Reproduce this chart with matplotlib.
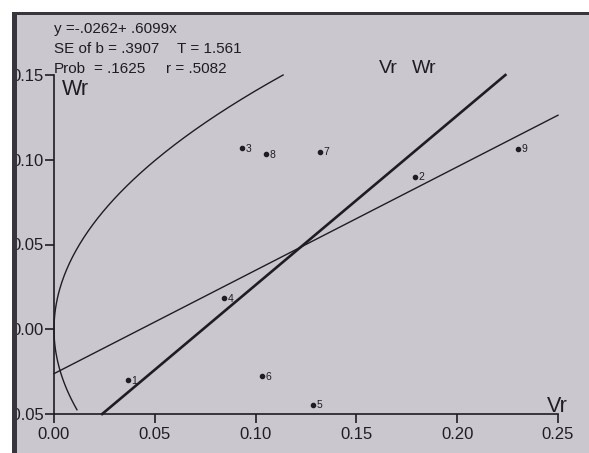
import numpy as np
import matplotlib
matplotlib.use("Agg")
import matplotlib.pyplot as plt
from matplotlib.patches import Rectangle

plt.rcParams['font.family'] = ['Liberation Sans', 'DejaVu Sans']

# array data
labels = ['1', '2', '3', '4', '5', '6', '7', '8', '9']
vr = [0.0366, 0.1792, 0.0934, 0.0845, 0.1286, 0.1033, 0.1321, 0.1052, 0.2300]
wr = [-0.0300, 0.0901, 0.1070, 0.0183, -0.0445, -0.0276, 0.1048, 0.1031, 0.1066]

# regression printed on the chart
intercept = -0.0262
slope = 0.6099
stats_lines = ["y =-.0262+ .6099x", "SE of b = .3907", "Prob"]
stats_right = ["", "T = 1.561", "r = .5082"]

# limiting parabola Wr^2 = Vr * Vp
vp = 0.198

xticks = [0.00, 0.05, 0.10, 0.15, 0.20, 0.25]
yticks = [-0.05, 0.00, 0.05, 0.10, 0.15]

W, H = 589, 453
bg = '#cbc7cf'
ink = '#1e1e22'

fig = plt.figure(figsize=(W / 100, H / 100), dpi=100, facecolor=bg)
ax = fig.add_axes([54 / W, 1 - 414 / H, (558 - 54) / W, (414 - 75) / H])
ax.set_facecolor('none')
ax.set_xlim(0, 0.25)
ax.set_ylim(-0.05, 0.15)

for s in ['top', 'right']:
    ax.spines[s].set_visible(False)
for s in ['left', 'bottom']:
    ax.spines[s].set_color(ink)
    ax.spines[s].set_linewidth(1.2)

ax.set_xticks(xticks)
ax.set_xticklabels(['%.2f' % t for t in xticks])
ax.set_yticks(yticks)
ax.set_yticklabels(['%.2f' % t for t in yticks])
ax.tick_params(axis='x', direction='out', length=6.5, width=1.2, color=ink,
               labelsize=12, labelcolor=ink, pad=3)
ax.tick_params(axis='y', direction='out', length=6.5, width=1.2, color=ink,
               labelsize=12, labelcolor=ink, pad=1)

# regression line
xr = np.array([0.0, 0.25])
ax.plot(xr, intercept + slope * xr, color=ink, lw=1.0, clip_on=False)

# unit slope line through the mean point
mx, my = np.mean(vr), np.mean(wr)
c = my - mx
xu = np.array([-0.05 - c, 0.15 - c])
ax.plot(xu, xu + c, color=ink, lw=1.9, clip_on=False)

# parabola
yu = np.linspace(0, 0.15, 200)
ax.plot(yu ** 2 / vp, yu, color=ink, lw=1.0, clip_on=False)
yl = np.linspace(0, -0.0475, 100)
ax.plot(yl ** 2 / vp, yl, color=ink, lw=1.0, clip_on=False)

# points
ax.plot(vr, wr, 'o', color=ink, ms=3.0, ls='none')
for lab, x, y in zip(labels, vr, wr):
    ax.annotate(lab, (x, y), xytext=(2.5, -0.5), textcoords='offset points',
                fontsize=7.5, color=ink, va='center', ha='left')

# texts in figure pixels
def ftext(px, baseline, s, size):
    fig.text(px / W, 1 - baseline / H, s, fontsize=size, color=ink,
             ha='left', va='baseline')

ftext(54, 33, stats_lines[0], 11)
ftext(54, 53, stats_lines[1], 11)
ftext(177, 53, stats_right[1], 11)
ftext(54, 73, stats_lines[2], 11)
ftext(94, 73, "= .1625", 11)
ftext(166, 73, stats_right[2], 11)

ftext(379, 73, "Vr", 14)
ftext(412, 73, "Wr", 14)
ftext(62, 95, "Wr", 15.5)
ftext(547, 412, "Vr", 15.5)

# scan border
fig.patches.append(Rectangle((0, 1 - 12 / H), 1, 12 / H, transform=fig.transFigure,
                             facecolor='white', edgecolor='none', zorder=10))
fig.patches.append(Rectangle((0, 0), 12 / W, 1, transform=fig.transFigure,
                             facecolor='white', edgecolor='none', zorder=10))
fig.patches.append(Rectangle((12 / W, 0), 5 / W, 1 - 12 / H, transform=fig.transFigure,
                             facecolor='#38363c', edgecolor='none', zorder=10))
fig.patches.append(Rectangle((12 / W, 1 - 15 / H), 1 - 12 / W, 3 / H,
                             transform=fig.transFigure,
                             facecolor='#38363c', edgecolor='none', zorder=10))

fig.savefig('out.png', dpi=100, facecolor=bg)
